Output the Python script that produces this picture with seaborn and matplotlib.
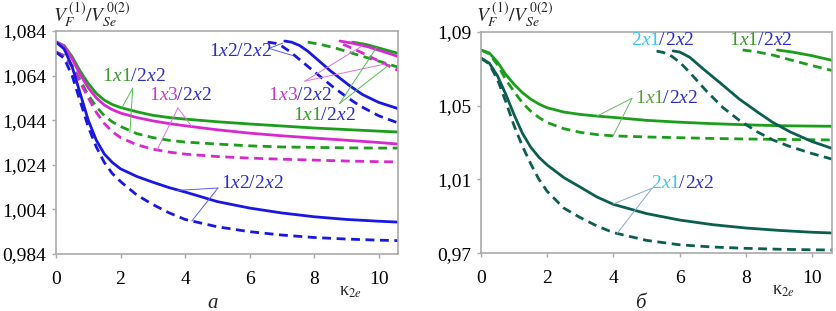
import numpy as np
import pandas as pd
import seaborn as sns
import matplotlib.pyplot as plt
from matplotlib.ticker import FixedLocator, FixedFormatter
from matplotlib.offsetbox import TextArea, HPacker, AnnotationBbox

# shared kappa_2e grid for the main (lower) curves
x_main = [0, 0.25, 0.5, 0.75, 1.0, 1.25, 1.5, 1.75, 2.0, 2.5, 3.0, 3.5, 4.0, 5, 6, 7, 8, 9, 10, 10.6]

# ---- panel a ----
a_g_sol = [1.0791, 1.0775, 1.0725, 1.0660, 1.0605, 1.0560, 1.0530, 1.0510, 1.0497, 1.0478,
           1.0462, 1.0452, 1.0445, 1.0433, 1.0423, 1.0414, 1.0405, 1.0398, 1.0391, 1.0387]
a_g_dash = [1.0745, 1.0730, 1.0685, 1.0620, 1.0553, 1.0500, 1.0460, 1.0432, 1.0412, 1.0380,
            1.0362, 1.0350, 1.0342, 1.0333, 1.0325, 1.0320, 1.0318, 1.0316, 1.0315, 1.0315]
a_m_sol = [1.0792, 1.0772, 1.0715, 1.0645, 1.0585, 1.0540, 1.0508, 1.0487, 1.0472, 1.0452,
           1.0437, 1.0425, 1.0415, 1.0397, 1.0382, 1.0370, 1.0360, 1.0350, 1.0340, 1.0333]
a_m_dash = [1.0745, 1.0728, 1.0680, 1.0610, 1.0540, 1.0475, 1.0425, 1.0388, 1.0362, 1.0330,
            1.0310, 1.0297, 1.0288, 1.0277, 1.0270, 1.0265, 1.0261, 1.0257, 1.0254, 1.0253]
a_b_sol = [1.0790, 1.0760, 1.0680, 1.0560, 1.0440, 1.0350, 1.0288, 1.0250, 1.0222, 1.0188,
           1.0162, 1.0138, 1.0118, 1.0075, 1.0046, 1.0024, 1.0007, 0.9995, 0.9987, 0.9983]
a_b_dash = [1.0745, 1.0718, 1.0640, 1.0525, 1.0410, 1.0320, 1.0250, 1.0200, 1.0165, 1.0105,
            1.0062, 1.0025, 0.9995, 0.9962, 0.9940, 0.9925, 0.9914, 0.9907, 0.9902, 0.9900]
# upper branches (a)
a_bu_dash_x = [6.56, 6.8, 7.0, 7.25, 7.55, 8.0, 8.58, 9.0, 9.41, 10.0, 10.6]
a_bu_dash_y = [1.0790, 1.0785, 1.0772, 1.0748, 1.0712, 1.0658, 1.0590, 1.0545, 1.0505, 1.0460, 1.0428]
a_bu_sol_x = [7.09, 7.3, 7.55, 7.8, 8.08, 8.5, 9.1, 9.5, 10.0, 10.6]
a_bu_sol_y = [1.0795, 1.0790, 1.0775, 1.0750, 1.0715, 1.0662, 1.0595, 1.0555, 1.0520, 1.0492]
a_gu_dash_x = [7.8, 8.2, 8.7, 9.3, 10.0, 10.6]
a_gu_dash_y = [1.0790, 1.0780, 1.0762, 1.0735, 1.0705, 1.0678]
a_mu_sol_x = [8.8, 9.2, 9.7, 10.2, 10.6]
a_mu_sol_y = [1.0795, 1.0785, 1.0768, 1.0745, 1.0726]
a_gu_sol_x = [9.2, 9.6, 10.1, 10.6]
a_gu_sol_y = [1.0790, 1.0780, 1.0760, 1.0740]
a_mu_dash_x = [8.9, 9.3, 9.8, 10.2, 10.6]
a_mu_dash_y = [1.0780, 1.0755, 1.0720, 1.0692, 1.0663]

# ---- panel b ----
b_g_sol = [1.0801, 1.0785, 1.0735, 1.0668, 1.0615, 1.0570, 1.0535, 1.0508, 1.0488, 1.0465,
           1.0452, 1.0443, 1.0436, 1.0420, 1.0410, 1.0402, 1.0396, 1.0391, 1.0389, 1.0388]
b_g_dash = [1.0801, 1.0780, 1.0720, 1.0640, 1.0575, 1.0515, 1.0470, 1.0435, 1.0408, 1.0375,
            1.0355, 1.0343, 1.0336, 1.0330, 1.0326, 1.0322, 1.0319, 1.0317, 1.0315, 1.0314]
b_t_sol = [1.0757, 1.0730, 1.0660, 1.0560, 1.0450, 1.0350, 1.0275, 1.0220, 1.0178, 1.0110,
           1.0058, 1.0005, 0.9965, 0.9915, 0.9880, 0.9855, 0.9837, 0.9824, 0.9814, 0.9810]
b_t_dash = [1.0757, 1.0725, 1.0640, 1.0520, 1.0390, 1.0280, 1.0185, 1.0100, 1.0035, 0.9945,
            0.9893, 0.9848, 0.9812, 0.9770, 0.9746, 0.9734, 0.9727, 0.9722, 0.9719, 0.9718]
b_tu_dash_x = [5.3, 5.5, 5.75, 6.0, 6.3, 6.8, 7.3, 7.8, 8.35, 8.8, 9.3, 10.0, 10.6]
b_tu_dash_y = [1.0795, 1.0788, 1.0768, 1.0735, 1.0680, 1.0580, 1.0490, 1.0420, 1.0357, 1.0315,
               1.0280, 1.0240, 1.0210]
b_tu_sol_x = [5.8, 6.0, 6.3, 6.7, 7.3, 7.8, 8.35, 8.8, 9.34, 10.0, 10.6]
b_tu_sol_y = [1.0796, 1.0790, 1.0762, 1.0700, 1.0611, 1.0535, 1.0465, 1.0410, 1.0357, 1.0305, 1.0268]
b_gu_dash_x = [7.9, 8.3, 8.8, 9.5, 10.1, 10.6]
b_gu_dash_y = [1.0801, 1.0792, 1.0774, 1.0740, 1.0712, 1.0690]
b_gu_sol_x = [8.95, 9.4, 10.0, 10.6]
b_gu_sol_y = [1.0801, 1.0790, 1.0770, 1.0745]

a_yticks = [0.984, 1.004, 1.024, 1.044, 1.064, 1.084]
a_yticklabels = ['0,984', '1,004', '1,024', '1,044', '1,064', '1,084']
b_yticks = [0.97, 1.01, 1.05, 1.09]
b_yticklabels = ['0,97', '1,01', '1,05', '1,09']
xticks = [0, 2, 4, 6, 8, 10]

GREEN = '#1c9e1c'
MAG = '#d42ad0'
BLUE = '#1818e0'
TEAL = '#0c5e50'
T_GREEN = '#3a9a2a'
T_OLIVE = '#5c9a35'
T_BLUE = '#2a2ac8'
T_MAG = '#c838c8'
T_CYAN = '#38c8f0'
SERIF = 'Liberation Serif'

sns.set_style('white')
plt.rcParams['font.family'] = [SERIF, 'DejaVu Serif']
plt.rcParams['mathtext.fontset'] = 'stix'

fig = plt.figure(figsize=(8.37, 3.11), dpi=100)
ax1 = fig.add_axes([0.0669, 0.1833, 0.4086, 0.717])
ax2 = fig.add_axes([0.5747, 0.1855, 0.4194, 0.7125])

DASH = (0, (3.2, 2.0))


def curve(ax, xs, ys, color, dashed):
    sns.lineplot(x=xs, y=ys, ax=ax, color=color, lw=2.0,
                 linestyle=DASH if dashed else '-', sort=False)


for xs, ys, c, d in [
    (x_main, a_g_sol, GREEN, False), (x_main, a_g_dash, GREEN, True),
    (x_main, a_m_sol, MAG, False), (x_main, a_m_dash, MAG, True),
    (x_main, a_b_sol, BLUE, False), (x_main, a_b_dash, BLUE, True),
    (a_bu_dash_x, a_bu_dash_y, BLUE, True), (a_bu_sol_x, a_bu_sol_y, BLUE, False),
    (a_gu_dash_x, a_gu_dash_y, GREEN, True), (a_gu_sol_x, a_gu_sol_y, GREEN, False),
    (a_mu_sol_x, a_mu_sol_y, MAG, False), (a_mu_dash_x, a_mu_dash_y, MAG, True),
]:
    curve(ax1, xs, ys, c, d)

for xs, ys, c, d in [
    (x_main, b_g_sol, GREEN, False), (x_main, b_g_dash, GREEN, True),
    (x_main, b_t_sol, TEAL, False), (x_main, b_t_dash, TEAL, True),
    (b_tu_dash_x, b_tu_dash_y, TEAL, True), (b_tu_sol_x, b_tu_sol_y, TEAL, False),
    (b_gu_dash_x, b_gu_dash_y, GREEN, True), (b_gu_sol_x, b_gu_sol_y, GREEN, False),
]:
    curve(ax2, xs, ys, c, d)


def label(ax, x, y, first, c1, second, c2):
    parts = []
    for txt, col in [(first, c1), (second, c2)]:
        for ch in txt:
            parts.append(TextArea(ch, textprops=dict(
                color=col, fontsize=14, family=SERIF,
                style='italic' if ch == 'x' else 'normal')))
    box = HPacker(children=parts, align='baseline', pad=0, sep=0)
    ab = AnnotationBbox(box, (x, y), xycoords='data', frameon=False,
                        box_alignment=(0.5, 0.5), pad=0)
    ax.add_artist(ab)


def leader(ax, start, ends, color):
    for e in ends:
        ax.plot([start[0], e[0]], [start[1], e[1]], color=color, lw=0.7)


# labels panel a
label(ax1, 2.41, 1.0634, '1x1', T_GREEN, '/2x2', T_BLUE)
leader(ax1, (2.38, 1.0584), [(2.04, 1.0495), (2.29, 1.0385)], '#55bb55')
label(ax1, 3.84, 1.0553, '1x3', T_MAG, '/2x2', T_BLUE)
leader(ax1, (3.78, 1.0495), [(3.13, 1.0306), (4.21, 1.0411)], '#e070e0')
label(ax1, 5.70, 1.0746, '1x2', T_BLUE, '/2x2', T_BLUE)
leader(ax1, (6.60, 1.0762), [(7.03, 1.0786), (7.34, 1.0730)], '#5a5af0')
label(ax1, 6.07, 1.0158, '1x2', T_BLUE, '/2x2', T_BLUE)
leader(ax1, (5.02, 1.0136), [(3.75, 1.0125), (4.21, 0.9988)], '#5a5af0')
label(ax1, 7.55, 1.0553, '1x3', T_MAG, '/2x2', T_BLUE)
leader(ax1, (7.71, 1.0615), [(9.5, 1.0774), (10.2, 1.0692)], '#e070e0')
label(ax1, 8.30, 1.0463, '1x1', T_GREEN, '/2x2', T_BLUE)
leader(ax1, (8.79, 1.0515), [(9.94, 1.0767), (10.34, 1.0690)], '#55bb55')

# labels panel b
label(ax2, 5.47, 1.0855, '2x1', T_CYAN, '/2x2', T_BLUE)
label(ax2, 8.43, 1.0855, '1x1', T_GREEN, '/2x2', T_BLUE)
label(ax2, 5.59, 1.0540, '1x1', T_OLIVE, '/2x2', T_BLUE)
leader(ax2, (4.56, 1.0540), [(3.5, 1.0443), (3.99, 1.0336)], '#66bb66')
label(ax2, 6.07, 1.0080, '2x1', T_CYAN, '/2x2', T_BLUE)
leader(ax2, (5.17, 1.0053), [(3.99, 0.9967), (4.11, 0.9808)], '#88aacc')

for ax, yt, ytl, ylim in [(ax1, a_yticks, a_yticklabels, (0.984, 1.084)),
                          (ax2, b_yticks, b_yticklabels, (0.97, 1.09))]:
    ax.set_xlim(0, 10.6)
    ax.set_ylim(*ylim)
    ax.yaxis.set_major_locator(FixedLocator(yt))
    ax.yaxis.set_major_formatter(FixedFormatter(ytl))
    ax.set_xticks(xticks)
    ax.set_xticklabels([str(t) for t in xticks])
    ax.tick_params(axis='both', labelsize=14, colors='#aaaaaa', labelcolor='black',
                   length=3, width=1, direction='out', left=True, bottom=True)
    ax.tick_params(axis='x', pad=9)
    ax.tick_params(axis='y', pad=4)
    for lab in ax.get_xticklabels() + ax.get_yticklabels():
        lab.set_fontfamily(SERIF)
    for sp in ax.spines.values():
        sp.set_color('#aaaaaa')
        sp.set_linewidth(1.2)
    ax.set_xlabel('')
    ax.set_ylabel('')

ylab = r'$V_F^{\,(1)}/V_{Se}^{\,0(2)}$'
fig.text(92 / 837, 1 - 15 / 311, ylab, fontsize=14, ha='center', va='center')
fig.text(515 / 837, 1 - 15 / 311, ylab, fontsize=14, ha='center', va='center')
fig.text(350 / 837, 1 - 292 / 311, r'κ$_{2e}$', fontsize=13, ha='center', va='center')
fig.text(783 / 837, 1 - 291 / 311, r'κ$_{2e}$', fontsize=13, ha='center', va='center')
fig.text(213 / 837, 1 - 303 / 311, 'а', fontsize=15, style='italic', ha='center', va='center')
fig.text(640 / 837, 1 - 303 / 311, 'б', fontsize=15, style='italic', ha='center', va='center')

fig.savefig('out.png', dpi=100)
